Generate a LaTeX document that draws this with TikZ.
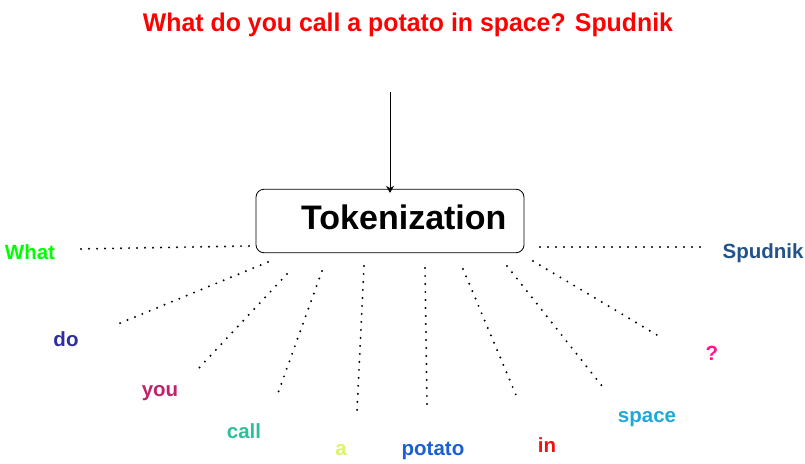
\documentclass[tikz,border=0pt]{standalone}
\usepackage{fontspec}
\setmainfont{Liberation Sans}
\usetikzlibrary{arrows.meta}
\definecolor{cWhat}{HTML}{00FF00}
\definecolor{cDo}{HTML}{2E2EA0}
\definecolor{cYou}{HTML}{C0226E}
\definecolor{cCall}{HTML}{2DBE9C}
\definecolor{cA}{HTML}{DDF26A}
\definecolor{cPotato}{HTML}{1A5FD6}
\definecolor{cIn}{HTML}{EE1111}
\definecolor{cSpace}{HTML}{1FA8D8}
\definecolor{cQ}{HTML}{FF1493}
\definecolor{cSpud}{HTML}{24528A}
\tikzset{
  word/.style={anchor=base, inner sep=0pt, font=\fontsize{20.5}{24}\selectfont\bfseries},
  dotline/.style={line width=2.2pt, dash pattern=on 0pt off 8pt, line cap=round, black},
  tokbox/.style={draw, line width=0.8pt, rounded corners=8pt, minimum width=268pt, minimum height=63.5pt, inner sep=0pt},
}
\begin{document}
\begin{tikzpicture}[x=1pt,y=-1pt]
\useasboundingbox (0,0) rectangle (805,463);
% title
\node[anchor=base, inner sep=0pt, text=red, font=\fontsize{25.6}{30}\selectfont\bfseries] (title) at (408,31)
  {\resizebox{530pt}{\height}{What do you call a potato in space? Spudnik}};
% box
\node[tokbox] (box) at (390,221) {};
\node[anchor=base west, inner sep=0pt, font=\fontsize{34}{40}\selectfont\bfseries] (tok) at (301,229) {Tokenization};
% arrow
\coordinate (astart) at (390,92);
\draw[line width=0.8pt, -{Stealth[length=7pt,width=8pt]}] (astart) -- ([yshift=-4pt]box.north);
% words
\node[word, text=cWhat] (w1) at (30,259) {What};
\node[word, text=cDo] (w2) at (66,346) {do};
\node[word, text=cYou] (w3) at (160,396) {you};
\node[word, text=cCall] (w4) at (244,438) {call};
\node[word, text=cA] (w5) at (341,455) {a};
\node[word, text=cPotato] (w6) at (433,455) {potato};
\node[word, text=cIn] (w7) at (547,452) {in};
\node[word, text=cSpace] (w8) at (647,422) {space};
\node[word, text=cQ] (w9) at (712,360) {?};
\node[word, text=cSpud] (w10) at (763,258) {Spudnik};
% dotted line ends
\coordinate (s1) at (249,246); \coordinate (e1) at (78,249);
\coordinate (s2) at (268,262); \coordinate (e2) at (118,324);
\coordinate (s3) at (287,274); \coordinate (e3) at (198,369);
\coordinate (s4) at (322,271); \coordinate (e4) at (278,393);
\coordinate (s5) at (364,266); \coordinate (e5) at (357,411);
\coordinate (s6) at (425,268); \coordinate (e6) at (427,404);
\coordinate (s7) at (463,269); \coordinate (e7) at (516,395);
\coordinate (s8) at (507,266); \coordinate (e8) at (602,386);
\coordinate (s9) at (533,261); \coordinate (e9) at (657,335);
\coordinate (s10) at (540,247); \coordinate (e10) at (702,247);
\foreach \i in {1,...,10} {\draw[dotline] (s\i) -- (e\i);}
\end{tikzpicture}
\end{document}
